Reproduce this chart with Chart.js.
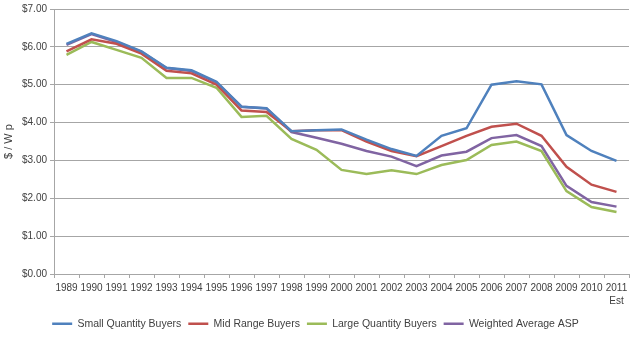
<!DOCTYPE html>
<html><head><meta charset="utf-8">
<script src="https://cdn.jsdelivr.net/npm/chart.js@4/dist/chart.umd.min.js"></script>
<style>html,body{margin:0;padding:0;background:#fff;}#wrap{width:635px;height:339px;}</style>
</head><body><div id="wrap"><canvas id="c" width="635" height="339"></canvas></div>
<script>
const categories = ["1989","1990","1991","1992","1993","1994","1995","1996","1997","1998","1999","2000","2001","2002","2003","2004","2005","2006","2007","2008","2009","2010",["2011","Est"]];
const smallQuantity = [6.08,6.36,6.15,5.88,5.45,5.38,5.08,4.42,4.38,3.77,3.80,3.82,3.55,3.30,3.12,3.65,3.85,5.00,5.09,5.01,3.67,3.25,2.99];
const midRange = [5.88,6.20,6.08,5.82,5.37,5.30,5.00,4.32,4.28,3.77,3.80,3.80,3.50,3.25,3.11,3.38,3.65,3.89,3.97,3.65,2.83,2.36,2.17];
const largeQuantity = [5.79,6.13,5.92,5.71,5.18,5.18,4.92,4.15,4.18,3.57,3.28,2.75,2.64,2.74,2.64,2.88,3.01,3.41,3.50,3.25,2.19,1.77,1.64];
const weightedAvg = [6.05,6.34,6.13,5.87,5.44,5.36,5.06,4.42,4.37,3.75,3.60,3.44,3.25,3.10,2.85,3.13,3.23,3.59,3.67,3.38,2.33,1.90,1.78];
const yTicks = [0,1,2,3,4,5,6,7];
const seriesNames = ["Small Quantity Buyers","Mid Range Buyers","Large Quantity Buyers","Weighted Average ASP"];
const colors = ["#4F81BD","#C0504D","#9BBB59","#8064A2"];
const font = "'Liberation Sans',Arial,sans-serif";
const allSeries = [smallQuantity, midRange, largeQuantity, weightedAvg];
new Chart(document.getElementById('c'), {
  type: 'line',
  data: {
    labels: categories,
    datasets: allSeries.map((d,i)=>({
      label: seriesNames[i], data: d, borderColor: colors[i], backgroundColor: colors[i],
      borderWidth: 2.5, pointRadius: 0, tension: 0, fill: false
    }))
  },
  options: {
    responsive: false, animation: false,
    layout: { padding: { left: 2, right: 6, top: 3, bottom: 0 } },
    plugins: {
      tooltip: { enabled: false },
      legend: {
        position: 'bottom',
        labels: { usePointStyle: true, pointStyle: 'line', pointStyleWidth: 20, boxWidth: 20, padding: 7, color: '#404040',
          font: { family: font, size: 10.5 } }
      }
    },
    scales: {
      x: {
        offset: true,
        afterFit: s => { s.height = 37.5; },
        grid: { offset: true, drawOnChartArea: false, drawTicks: true, tickLength: 4, color: '#A6A6A6' },
        border: { color: '#A6A6A6' },
        ticks: { color: '#404040', maxRotation: 0, autoSkip: false, padding: 4, font: { family: font, size: 10, lineHeight: 1.25 } }
      },
      y: {
        min: 0, max: 7,
        afterBuildTicks: s => { s.ticks = yTicks.map(v=>({value:v})); },
        afterFit: s => { s.width = 52; },
        grid: { color: '#A6A6A6', tickLength: 4 },
        border: { color: '#A6A6A6' },
        ticks: { color: '#404040', padding: 3, font: { family: font, size: 10 },
          callback: v => '$' + Number(v).toFixed(2) },
        title: { display: true, text: '$ / W p', color: '#404040', padding: 0, font: { family: font, size: 11 } }
      }
    }
  }
});
</script></body></html>
